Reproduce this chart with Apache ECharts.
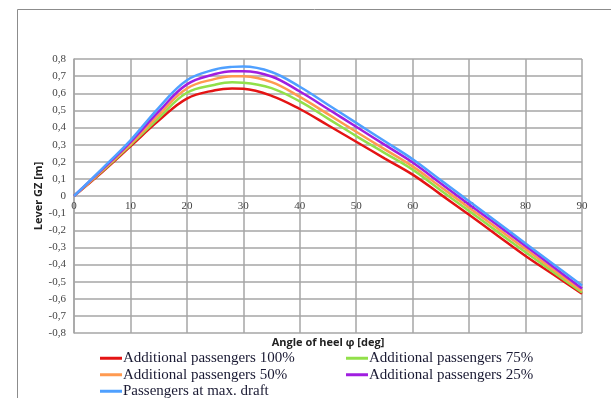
<!DOCTYPE html>
<html>
<head>
<meta charset="utf-8">
<script src="https://cdn.jsdelivr.net/npm/echarts@6/dist/echarts.min.js"></script>
<style>html,body{margin:0;padding:0;background:#fff}#c{width:611px;height:398px}</style>
</head>
<body>
<div id="c"></div>
<script>
const angles = [0, 5, 10, 15, 20, 25, 28, 30, 35, 40, 45, 50, 55, 60, 65, 70, 75, 80, 85, 90];
const pax100 = [0, 0.14, 0.29, 0.44, 0.569, 0.618, 0.628, 0.626, 0.585, 0.508, 0.413, 0.317, 0.22, 0.125, 0.008, -0.11, -0.23, -0.35, -0.46, -0.571];
const pax75  = [0, 0.145, 0.298, 0.455, 0.603, 0.65, 0.664, 0.662, 0.63, 0.552, 0.452, 0.35, 0.252, 0.154, 0.032, -0.088, -0.208, -0.328, -0.446, -0.563];
const pax50  = [0, 0.15, 0.305, 0.472, 0.628, 0.684, 0.7, 0.699, 0.665, 0.579, 0.478, 0.375, 0.274, 0.173, 0.052, -0.068, -0.189, -0.31, -0.432, -0.553];
const pax25  = [0, 0.155, 0.315, 0.492, 0.652, 0.712, 0.729, 0.729, 0.698, 0.61, 0.508, 0.404, 0.3, 0.196, 0.073, -0.049, -0.17, -0.292, -0.416, -0.54];
const paxMax = [0, 0.16, 0.325, 0.515, 0.676, 0.739, 0.754, 0.756, 0.724, 0.638, 0.533, 0.427, 0.321, 0.215, 0.092, -0.03, -0.153, -0.277, -0.4, -0.523];

const names = ['Additional passengers 100%', 'Additional passengers 75%', 'Additional passengers 50%', 'Additional passengers 25%', 'Passengers at max. draft'];
const colors = ['#e41414', '#92e04a', '#ff9a50', '#a01ee0', '#4fa0ff'];
const values = [pax100, pax75, pax50, pax25, paxMax];

const series = values.map((v, i) => ({
  name: names[i],
  type: 'line',
  smooth: 0.4,
  symbol: 'none',
  lineStyle: { width: 2.5, color: colors[i] },
  itemStyle: { color: colors[i] },
  data: angles.map((a, j) => [a, v[j]])
}));

const serif = '"Liberation Serif", "DejaVu Serif", serif';
const sans = '"Open Sans", "Liberation Sans", sans-serif';
const legendText = { fontFamily: serif, fontSize: 15, color: '#1a1a33', lineHeight: 16.5, padding: [0, 0, 0, -4] };

const chart = echarts.init(document.getElementById('c'));
chart.setOption({
  animation: false,
  backgroundColor: '#fff',
  graphic: [{
    type: 'rect', left: 15, top: 7, silent: true,
    shape: { width: 594, height: 400 },
    style: { fill: 'none', stroke: '#8c8c8c', lineWidth: 1 }
  }, {
    type: 'text', x: 328, y: 337, silent: true,
    style: { text: 'Angle of heel φ [deg]', font: 'bold 11px ' + sans, fill: '#222', align: 'center', verticalAlign: 'top' }
  }],
  grid: { left: 74, right: 29, top: 59, bottom: 65, containLabel: false, outerBoundsMode: 'none' },
  legend: [
    { left: 100, top: 350, height: 70, orient: 'vertical', itemGap: 0, itemWidth: 22, itemHeight: 3, icon: 'rect',
      data: [names[0], names[2], names[4]], textStyle: legendText, padding: 0 },
    { left: 346, top: 350, height: 70, orient: 'vertical', itemGap: 0, itemWidth: 22, itemHeight: 3, icon: 'rect',
      data: [names[1], names[3]], textStyle: legendText, padding: 0 }
  ],
  xAxis: {
    type: 'value', min: 0, max: 90, interval: 10,
    offset: -137,
    axisLine: { show: false, onZero: false },
    axisTick: { show: false },
    axisLabel: { fontFamily: serif, fontSize: 11, color: '#444', margin: 5 },
    splitLine: { show: true, lineStyle: { color: '#a6a6a6', width: 1.5 } }
  },
  yAxis: {
    type: 'value', min: -0.8, max: 0.8, interval: 0.1,
    name: 'Lever GZ [m]', nameLocation: 'middle', nameGap: 30, nameRotate: 90, nameMoveOverlap: false,
    nameTextStyle: { fontFamily: sans, fontWeight: 'bold', fontSize: 11, color: '#222' },
    axisLine: { show: true, onZero: false, lineStyle: { color: '#a6a6a6', width: 1.5 } },
    axisTick: { show: false },
    axisLabel: { fontFamily: serif, fontSize: 11, color: '#444', margin: 8,
      formatter: v => (Math.round(v * 10) / 10).toString().replace('.', ',') },
    splitLine: { show: true, lineStyle: { color: '#a6a6a6', width: 1.5 } }
  },
  series: series
});
</script>
</body>
</html>
